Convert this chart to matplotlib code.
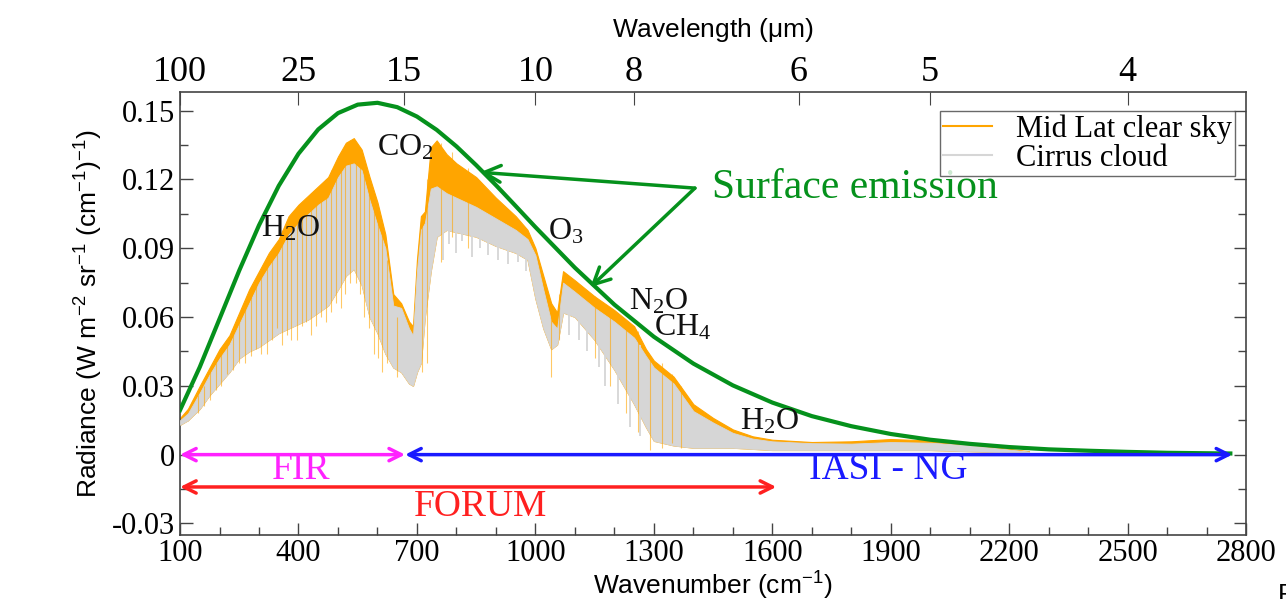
import matplotlib
matplotlib.use('agg')
import matplotlib.pyplot as plt
from matplotlib.lines import Line2D
from matplotlib.ticker import MultipleLocator

plt.rcParams['axes.unicode_minus'] = False

# surface emission (Planck curve)
wn_bb = [100, 150, 200, 250, 300, 350, 400, 450, 500, 550, 600, 650, 700, 750,
         800, 850, 900, 950, 1000, 1100, 1200, 1300, 1400, 1500, 1600, 1700,
         1800, 1900, 2000, 2100, 2200, 2300, 2400, 2500, 2600, 2700, 2760]
rad_bb = [0.0194, 0.0382, 0.0592, 0.0803, 0.1000, 0.1172, 0.1312, 0.1418,
          0.1489, 0.1526, 0.1534, 0.1515, 0.1474, 0.1416, 0.1344, 0.1262,
          0.1175, 0.1084, 0.0992, 0.0815, 0.0654, 0.0514, 0.0397, 0.0302,
          0.0227, 0.0168, 0.0124, 0.0090, 0.0065, 0.0047, 0.0033, 0.0023,
          0.0017, 0.0012, 0.0008, 0.0006, 0.0005]

# spectra envelopes
wn_spec = [100, 120, 150, 175, 200, 225, 250, 275, 300, 325, 350, 375, 400, 425,
           450, 475, 500, 520, 540, 560, 580, 600, 620, 640, 660, 680, 690, 700,
           710, 720, 735, 750, 775, 800, 850, 900, 950, 980, 1000, 1020, 1040,
           1055, 1070, 1100, 1150, 1200, 1250, 1280, 1300, 1350, 1400, 1450,
           1500, 1550, 1600, 1700, 1800, 1900, 2000, 2100, 2200, 2250]
clear_top = [0.016, 0.020, 0.030, 0.038, 0.046, 0.052, 0.062, 0.072, 0.080,
             0.088, 0.094, 0.104, 0.109, 0.113, 0.117, 0.121, 0.130, 0.136,
             0.138, 0.133, 0.121, 0.110, 0.096, 0.070, 0.066, 0.058, 0.056,
             0.085, 0.104, 0.106, 0.134, 0.137, 0.131, 0.127, 0.121, 0.112,
             0.104, 0.098, 0.090, 0.078, 0.066, 0.062, 0.080, 0.076, 0.069,
             0.063, 0.056, 0.046, 0.041, 0.034, 0.022, 0.016, 0.011, 0.008,
             0.0065, 0.0055, 0.0058, 0.0068, 0.0062, 0.0045, 0.0025, 0.0015]
clear_low = [0.013, 0.015, 0.020, 0.026, 0.031, 0.036, 0.042, 0.045, 0.047,
             0.050, 0.053, 0.055, 0.057, 0.059, 0.062, 0.065, 0.072, 0.078,
             0.081, 0.074, 0.060, 0.053, 0.044, 0.038, 0.036, 0.031, 0.030,
             0.036, 0.040, 0.060, 0.080, 0.095, 0.098, 0.097, 0.095, 0.091,
             0.088, 0.085, 0.068, 0.055, 0.046, 0.048, 0.062, 0.060, 0.050,
             0.037, 0.022, 0.012, 0.006, 0.004, 0.003, 0.003, 0.003, 0.0025,
             0.002, 0.002, 0.002, 0.002, 0.002, 0.0015, 0.001, 0.001]
cirrus_top = [0.015, 0.018, 0.027, 0.035, 0.042, 0.048, 0.057, 0.066, 0.075,
              0.082, 0.088, 0.096, 0.101, 0.105, 0.109, 0.112, 0.121, 0.126,
              0.127, 0.124, 0.111, 0.100, 0.090, 0.065, 0.064, 0.055, 0.052,
              0.080, 0.098, 0.101, 0.116, 0.117, 0.114, 0.112, 0.108, 0.103,
              0.098, 0.094, 0.087, 0.072, 0.058, 0.055, 0.075, 0.071, 0.064,
              0.058, 0.051, 0.043, 0.038, 0.031, 0.019, 0.014, 0.0095, 0.007,
              0.0058, 0.0050, 0.0048, 0.0055, 0.0052, 0.0040, 0.0022, 0.0013]
cirrus_low = [0.013, 0.015, 0.020, 0.026, 0.031, 0.036, 0.042, 0.045, 0.047,
              0.050, 0.053, 0.055, 0.057, 0.059, 0.062, 0.065, 0.072, 0.078,
              0.081, 0.074, 0.060, 0.053, 0.044, 0.038, 0.036, 0.031, 0.030,
              0.036, 0.040, 0.060, 0.080, 0.095, 0.098, 0.097, 0.095, 0.091,
              0.088, 0.085, 0.068, 0.055, 0.046, 0.048, 0.062, 0.060, 0.050,
              0.037, 0.022, 0.012, 0.006, 0.004, 0.003, 0.003, 0.003, 0.0025,
              0.002, 0.002, 0.002, 0.002, 0.002, 0.0015, 0.001, 0.001]

# single clear-sky absorption lines (orange streaks)
line_wn = [145, 160, 175, 190, 205, 220, 235, 250, 265, 280, 292, 305, 320,
           333, 345, 358, 370, 382, 395, 408, 420, 432, 445, 458, 470, 483,
           495, 507, 518, 530, 545, 555, 565, 578, 590, 602, 612, 625, 650,
           712, 725, 760, 790, 830, 1040, 1060, 1150, 1190, 1230, 1260, 1290,
           1320, 1345, 1370]
line_bottom = [0.018, 0.021, 0.024, 0.028, 0.030, 0.035, 0.037, 0.040, 0.040,
               0.043, 0.046, 0.044, 0.044, 0.050, 0.055, 0.048, 0.052, 0.050,
               0.050, 0.056, 0.058, 0.052, 0.056, 0.060, 0.058, 0.062, 0.066,
               0.064, 0.070, 0.075, 0.075, 0.070, 0.060, 0.055, 0.044, 0.042,
               0.036, 0.040, 0.034, 0.036, 0.040, 0.084, 0.095, 0.090, 0.034,
               0.050, 0.042, 0.030, 0.018, 0.010, 0.002, 0.003, 0.005, 0.003]
line_top = [0.026, 0.030, 0.036, 0.040, 0.044, 0.048, 0.054, 0.060, 0.066,
            0.070, 0.074, 0.080, 0.086, 0.088, 0.092, 0.098, 0.102, 0.104,
            0.108, 0.110, 0.112, 0.114, 0.116, 0.118, 0.120, 0.124, 0.128,
            0.132, 0.135, 0.137, 0.136, 0.134, 0.128, 0.120, 0.114, 0.108,
            0.100, 0.085, 0.060, 0.104, 0.120, 0.136, 0.132, 0.125, 0.066,
            0.070, 0.069, 0.064, 0.058, 0.054, 0.043, 0.040, 0.035, 0.030]

# cirrus lines hanging below the band
cirrus_line_wn = [765, 780, 800, 815, 840, 860, 880, 905, 930, 955, 975, 1085,
                  1110, 1130, 1160, 1175, 1210, 1240, 1265]
cirrus_line_bottom = [0.085, 0.092, 0.088, 0.093, 0.086, 0.090, 0.087, 0.085,
                      0.083, 0.084, 0.080, 0.052, 0.050, 0.045, 0.038, 0.030,
                      0.022, 0.012, 0.008]
cirrus_line_top = [0.110, 0.112, 0.110, 0.110, 0.106, 0.104, 0.102, 0.100,
                   0.097, 0.094, 0.092, 0.070, 0.068, 0.066, 0.062, 0.060,
                   0.056, 0.052, 0.048]

# instrument ranges (cm-1)
fir_range = [100, 670]
iasi_range = [670, 2765]
forum_range = [100, 1610]

top_tick_wn = [100, 400, 667, 1000, 1250, 1667, 2000, 2500]
top_tick_lab = ['100', '25', '15', '10', '8', '6', '5', '4']
bottom_ticks = [100, 400, 700, 1000, 1300, 1600, 1900, 2200, 2500, 2800]

SERIF = 'Liberation Serif'
SANS = 'Liberation Sans'
GREEN = '#05911c'
ORANGE = '#ffa500'
GRAY = '#d6d6d6'

fig = plt.figure(figsize=(12.86, 5.99), dpi=100)
ax = fig.add_axes([0.14, 0.107, 0.829, 0.739])

ax.fill_between(wn_spec, clear_low, clear_top, color=ORANGE, lw=0.8, zorder=2)
ax.fill_between(wn_spec, cirrus_low, cirrus_top, color=GRAY, lw=0.6, zorder=3)
ax.vlines(cirrus_line_wn, cirrus_line_bottom, cirrus_line_top, color=GRAY,
          lw=1.3, zorder=3)
ax.vlines(line_wn, line_bottom, line_top, color=ORANGE, lw=0.8, alpha=0.6,
          zorder=3.5)
ax.plot(wn_bb, rad_bb, color=GREEN, lw=3, zorder=4)

# ranges
def range_arrow(x0, x1, y, color):
    ax.annotate('', xy=(x1, y), xytext=(x0, y),
                arrowprops=dict(arrowstyle='<->', color=color, lw=2.5,
                                mutation_scale=22, shrinkA=0, shrinkB=0),
                zorder=6)

range_arrow(iasi_range[0], iasi_range[1], 0.0, '#1a1aff')
range_arrow(fir_range[0], fir_range[1], 0.0, '#ff22ff')
range_arrow(forum_range[0], forum_range[1], -0.0141, '#ff2020')
ax.text(406, -0.0067, 'FIR', color='#ff22ff', family=SERIF, fontsize=27,
        ha='center', va='center')
ax.text(860, -0.0228, 'FORUM', color='#ff2020', family=SERIF, fontsize=27,
        ha='center', va='center')
ax.text(1893, -0.0067, 'IASI - NG', color='#1a1aff', family=SERIF, fontsize=27,
        ha='center', va='center')

# surface emission pointers
for tip in [(860, 0.1231), (1139, 0.0730)]:
    ax.annotate('', xy=tip, xytext=(1404, 0.1162),
                arrowprops=dict(arrowstyle='->', color=GREEN, lw=2.5,
                                mutation_scale=30, shrinkA=0, shrinkB=0),
                zorder=6)
ax.text(1448, 0.1162, 'Surface emission', color=GREEN, family=SERIF,
        fontsize=30, ha='left', va='center')

# gas labels
gas_labels = [(r'CO$\mathregular{_2}$', 670, 0.1336), (r'H$\mathregular{_2}$O', 381, 0.0987),
              (r'O$\mathregular{_3}$', 1078, 0.097), (r'N$\mathregular{_2}$O', 1313, 0.0665),
              (r'CH$\mathregular{_4}$', 1374, 0.0552), (r'H$\mathregular{_2}$O', 1592, 0.0142)]
for lab, x, y in gas_labels:
    ax.text(x, y, lab, family=SERIF, fontsize=23, ha='center', va='center',
            color='#111111', zorder=7)

ax.set_xlim(100, 2800)
ax.set_ylim(-0.035, 0.158)
ax.set_xticks(bottom_ticks)
ax.xaxis.set_minor_locator(MultipleLocator(100))
ax.set_yticks([-0.03, 0, 0.03, 0.06, 0.09, 0.12, 0.15])
ax.set_yticklabels(['-0.03', '0', '0.03', '0.06', '0.09', '0.12', '0.15'])
ax.yaxis.set_minor_locator(MultipleLocator(0.015))
ax.tick_params(which='both', direction='in', right=True, colors='#444444',
               labelcolor='black', width=1)
ax.tick_params(which='major', length=9)
ax.tick_params(which='minor', length=6)
ax.tick_params(axis='x', pad=3)
for lab in ax.get_xticklabels() + ax.get_yticklabels():
    lab.set_fontfamily(SERIF)
    lab.set_fontsize(22)
for sp in ax.spines.values():
    sp.set_color('#444444')
    sp.set_linewidth(1.2)

ax.set_xlabel(r'Wavenumber (cm$^\mathregular{-1}$)', family=SANS, fontsize=19,
              labelpad=0)
ax.set_ylabel(r'Radiance (W m$^\mathregular{-2}$ sr$^\mathregular{-1}$ (cm$^\mathregular{-1}$)$^\mathregular{-1}$)',
              family=SANS, fontsize=19, labelpad=6)

ax2 = ax.twiny()
ax2.set_xlim(ax.get_xlim())
ax2.set_xticks(top_tick_wn)
ax2.set_xticklabels(top_tick_lab, family=SERIF, fontsize=26)
ax2.tick_params(direction='in', length=9, colors='#444444', labelcolor='black',
                pad=2)
for sp in ax2.spines.values():
    sp.set_visible(False)
ax2.set_xlabel(r'Wavelength ($\mathregular{\mu}$m)', family=SANS, fontsize=19,
               labelpad=14)

handles = [Line2D([], [], color=ORANGE, lw=1.5), Line2D([], [], color=GRAY, lw=1.5)]
leg = ax.legend(handles, ['Mid Lat clear sky', 'Cirrus cloud'], loc='upper right',
                bbox_to_anchor=(0.99, 0.957), prop={'family': SERIF, 'size': 22},
                frameon=True, fancybox=False, edgecolor='#444444',
                borderpad=0.1, labelspacing=0.0, handlelength=1.6,
                handletextpad=0.8, borderaxespad=0)
leg.get_frame().set_linewidth(1)

fig.text(0.994, 0.027, 'F', family=SANS, fontsize=19, ha='left', va='top')

plt.savefig('out.png', dpi=100)
